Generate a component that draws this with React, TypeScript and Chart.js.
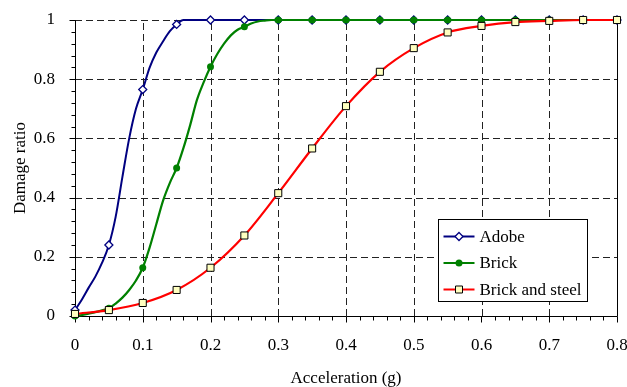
import React, { useEffect, useRef } from 'react';
import { Chart, registerables } from 'chart.js';

Chart.register(...registerables);

const FONT = "'Liberation Serif', 'Times New Roman', Times, serif";

// Series: Adobe
const adobeX = [0, 0.01, 0.02, 0.03, 0.04, 0.05, 0.06, 0.07, 0.08, 0.09, 0.1, 0.11, 0.12, 0.13, 0.14, 0.15, 0.16, 0.17, 0.18, 0.19, 0.2, 0.21, 0.22, 0.23, 0.24, 0.25, 0.3, 0.35, 0.4, 0.45, 0.5, 0.55, 0.6, 0.65, 0.7, 0.75, 0.8];
const adobeY = [0.02, 0.055, 0.095, 0.133, 0.18, 0.24, 0.335, 0.47, 0.6, 0.7, 0.765, 0.838, 0.89, 0.928, 0.962, 0.985, 1.0, 1.0, 1.0, 1.0, 1.0, 1.0, 1.0, 1.0, 1.0, 1.0, 1.0, 1.0, 1.0, 1.0, 1.0, 1.0, 1.0, 1.0, 1.0, 1.0, 1.0];

// Series: Brick
const brickX = [0, 0.01, 0.02, 0.03, 0.04, 0.05, 0.06, 0.07, 0.08, 0.09, 0.1, 0.11, 0.12, 0.13, 0.14, 0.15, 0.16, 0.17, 0.18, 0.19, 0.2, 0.21, 0.22, 0.23, 0.24, 0.25, 0.26, 0.27, 0.28, 0.29, 0.3, 0.35, 0.4, 0.45, 0.5, 0.55, 0.6, 0.65, 0.7, 0.75, 0.8];
const brickY = [0.0, 0.003, 0.008, 0.013, 0.019, 0.026, 0.042, 0.062, 0.088, 0.12, 0.163, 0.23, 0.31, 0.39, 0.45, 0.5, 0.567, 0.645, 0.73, 0.79, 0.842, 0.885, 0.92, 0.948, 0.967, 0.977, 0.988, 0.995, 0.998, 1.0, 1.0, 1.0, 1.0, 1.0, 1.0, 1.0, 1.0, 1.0, 1.0, 1.0, 1.0];

// Series: Brick and steel
const steelX = [0, 0.05, 0.1, 0.15, 0.2, 0.25, 0.3, 0.35, 0.4, 0.45, 0.5, 0.55, 0.6, 0.65, 0.7, 0.75, 0.8];
const steelY = [0.007, 0.02, 0.044, 0.088, 0.163, 0.272, 0.415, 0.566, 0.709, 0.825, 0.905, 0.958, 0.98, 0.993, 0.997, 1.0, 1.0];

const seriesLabels = ['Adobe', 'Brick', 'Brick and steel'];
const xAxisTitle = 'Acceleration (g)';
const yAxisTitle = 'Damage ratio';

const xMin = 0, xMax = 0.8, xStep = 0.1, xMinorStep = 0.02;
const yMin = 0, yMax = 1, yStep = 0.2, yMinorStep = 0.04;
const markerStep = 0.05;

const NAVY = '#000080';
const GREEN = '#008000';
const RED = '#ff0000';
const SQUARE_FILL = '#ffffc0';

const isMarker = (v: number) => Math.abs(v / markerStep - Math.round(v / markerStep)) < 1e-6;
const fmt = (v: any) => String(Math.round(Number(v) * 10) / 10);

function drawMarker(ctx: CanvasRenderingContext2D, kind: string, x: number, y: number) {
  ctx.save();
  ctx.setLineDash([]);
  if (kind === 'diamond') {
    const r = 4;
    ctx.beginPath();
    ctx.moveTo(x, y - r); ctx.lineTo(x + r, y); ctx.lineTo(x, y + r); ctx.lineTo(x - r, y); ctx.closePath();
    ctx.fillStyle = '#fff'; ctx.fill();
    ctx.lineWidth = 1.3; ctx.strokeStyle = NAVY; ctx.stroke();
  } else if (kind === 'circle') {
    ctx.beginPath(); ctx.arc(x, y, 3.5, 0, Math.PI * 2);
    ctx.fillStyle = GREEN; ctx.fill();
  } else {
    const s = 3.5;
    ctx.beginPath(); ctx.rect(x - s, y - s, 2 * s, 2 * s);
    ctx.fillStyle = SQUARE_FILL; ctx.fill();
    ctx.lineWidth = 1; ctx.strokeStyle = '#000'; ctx.stroke();
  }
  ctx.restore();
}

const framePlugin = {
  id: 'frame',
  beforeDatasetsDraw(chart: any) {
    const { ctx, chartArea } = chart;
    const { left, right, top, bottom } = chartArea;
    const xs = chart.scales.x, ys = chart.scales.y;
    ctx.save();
    ctx.lineWidth = 1;
    ctx.strokeStyle = '#222';
    ctx.setLineDash([7, 4]);
    const nx = Math.round((xMax - xMin) / xStep);
    for (let i = 1; i < nx; i++) {
      const px = Math.round(xs.getPixelForValue(xMin + i * xStep)) + 0.5;
      ctx.beginPath(); ctx.moveTo(px, bottom); ctx.lineTo(px, top); ctx.stroke();
    }
    const ny = Math.round((yMax - yMin) / yStep);
    for (let i = 1; i <= ny; i++) {
      const py = Math.round(ys.getPixelForValue(yMin + i * yStep)) + 0.5;
      ctx.beginPath(); ctx.moveTo(left, py); ctx.lineTo(right, py); ctx.stroke();
    }
    ctx.setLineDash([]);
    ctx.strokeStyle = '#000';
    const L = Math.round(left) + 0.5, R = Math.round(right) + 0.5, B = Math.round(bottom) + 0.5, T = Math.round(top) + 0.5;
    ctx.beginPath(); ctx.moveTo(L, T); ctx.lineTo(L, B); ctx.lineTo(R, B); ctx.lineTo(R, T); ctx.stroke();
    const nxm = Math.round((xMax - xMin) / xMinorStep);
    const per = Math.round(xStep / xMinorStep);
    for (let i = 0; i <= nxm; i++) {
      const px = Math.round(xs.getPixelForValue(xMin + i * xMinorStep)) + 0.5;
      const len = i % per === 0 ? 6 : 4;
      ctx.beginPath(); ctx.moveTo(px, B); ctx.lineTo(px, B + len); ctx.stroke();
    }
    const nym = Math.round((yMax - yMin) / yMinorStep);
    const pery = Math.round(yStep / yMinorStep);
    for (let i = 0; i <= nym; i++) {
      const py = Math.round(ys.getPixelForValue(yMin + i * yMinorStep)) + 0.5;
      const len = i % pery === 0 ? 6 : 4;
      ctx.beginPath(); ctx.moveTo(L - len, py); ctx.lineTo(L, py); ctx.stroke();
    }
    ctx.restore();
  },
};

const legendPlugin = {
  id: 'boxLegend',
  afterDraw(chart: any) {
    const { ctx, chartArea } = chart;
    const bx = Math.round(chartArea.right - 179) + 0.5;
    const by = Math.round(chartArea.bottom - 97) + 0.5;
    const bw = 149, bh = 82;
    ctx.save();
    ctx.fillStyle = '#fff';
    ctx.fillRect(bx, by, bw, bh);
    ctx.lineWidth = 1; ctx.strokeStyle = '#000'; ctx.setLineDash([]);
    ctx.strokeRect(bx, by, bw, bh);
    const kinds = ['diamond', 'circle', 'square'];
    const colors = [NAVY, GREEN, RED];
    ctx.font = `17px ${FONT}`;
    ctx.textBaseline = 'middle';
    ctx.textAlign = 'left';
    for (let i = 0; i < 3; i++) {
      const cy = by + 17 + i * 26.5;
      ctx.strokeStyle = colors[i]; ctx.lineWidth = 2;
      ctx.beginPath(); ctx.moveTo(bx + 5, cy); ctx.lineTo(bx + 36, cy); ctx.stroke();
      drawMarker(ctx, kinds[i], bx + 20.5, cy);
      ctx.fillStyle = '#000';
      ctx.fillText(seriesLabels[i], bx + 41, cy + 1);
    }
    ctx.restore();
  },
};

const toPoints = (xs: number[], ys: number[]) => xs.map((x, i) => ({ x, y: ys[i] }));

export default function App() {
  const ref = useRef<HTMLCanvasElement | null>(null);
  useEffect(() => {
    if (!ref.current) return;
    const radius = (r: number) => (c: any) => (isMarker(c.raw?.x ?? 0) ? r : 0);
    const chart = new Chart(ref.current, {
      type: 'line',
      data: {
        datasets: [
          {
            label: seriesLabels[0],
            data: toPoints(adobeX, adobeY),
            borderColor: NAVY,
            borderWidth: 2,
            pointStyle: 'rectRot',
            pointRadius: radius(4),
            pointBackgroundColor: '#fff',
            pointBorderColor: NAVY,
            pointBorderWidth: 1.3,
            cubicInterpolationMode: 'monotone',
            clip: false as any,
            order: 3,
          },
          {
            label: seriesLabels[1],
            data: toPoints(brickX, brickY),
            borderColor: GREEN,
            borderWidth: 2.2,
            pointStyle: 'circle',
            pointRadius: radius(3.5),
            pointBackgroundColor: GREEN,
            pointBorderColor: GREEN,
            pointBorderWidth: 0,
            cubicInterpolationMode: 'monotone',
            clip: false as any,
            order: 2,
          },
          {
            label: seriesLabels[2],
            data: toPoints(steelX, steelY),
            borderColor: RED,
            borderWidth: 2.2,
            pointStyle: 'rect',
            pointRadius: 5,
            pointBackgroundColor: SQUARE_FILL,
            pointBorderColor: '#000',
            pointBorderWidth: 1,
            cubicInterpolationMode: 'monotone',
            clip: false as any,
            order: 1,
          },
        ],
      },
      options: {
        animation: false,
        responsive: false,
        maintainAspectRatio: false,
        layout: { padding: { top: 20, right: 10, left: 0, bottom: 0 } },
        plugins: { legend: { display: false }, tooltip: { enabled: false } },
        scales: {
          x: {
            type: 'linear',
            min: xMin,
            max: xMax,
            ticks: { stepSize: xStep, font: { family: FONT, size: 17 }, color: '#000', padding: 11, maxRotation: 0, autoSkip: false, callback: fmt },
            grid: { display: false },
            border: { display: false },
            title: { display: true, text: xAxisTitle, color: '#000', font: { family: FONT, size: 17, lineHeight: 1 }, padding: { top: 0, bottom: 0 } },
            afterFit: (s: any) => { s.height = 71; s.paddingLeft = 0; s.paddingRight = 0; },
          },
          y: {
            type: 'linear',
            min: yMin,
            max: yMax,
            ticks: { stepSize: yStep, font: { family: FONT, size: 17 }, color: '#000', padding: 12, callback: fmt },
            grid: { display: false },
            border: { display: false },
            title: { display: true, text: yAxisTitle, color: '#000', font: { family: FONT, size: 17, lineHeight: 1 }, padding: { top: 12, bottom: 0 } },
            afterFit: (s: any) => { s.width = 75; s.paddingTop = 0; s.paddingBottom = 0; },
          },
        },
      },
      plugins: [framePlugin, legendPlugin],
    } as any);
    return () => chart.destroy();
  }, []);
  return (
    <div style={{ position: 'fixed', left: 0, top: 0, width: 627, height: 387, background: '#fff' }}>
      <canvas ref={ref} width={627} height={387} />
    </div>
  );
}
